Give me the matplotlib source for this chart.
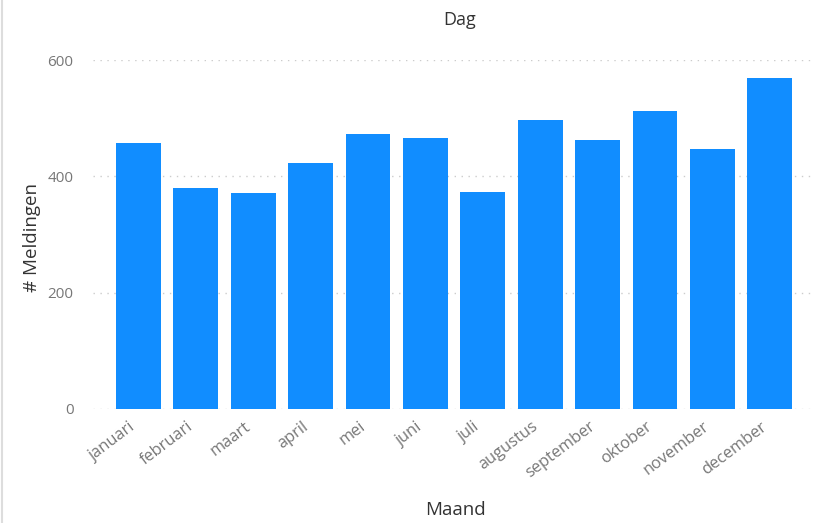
import matplotlib.pyplot as plt
from matplotlib.lines import Line2D

maanden = ['januari', 'februari', 'maart', 'april', 'mei', 'juni', 'juli',
           'augustus', 'september', 'oktober', 'november', 'december']
meldingen = [457, 380, 371, 423, 473, 466, 373, 497, 462, 512, 447, 569]
yticks = [0, 200, 400, 600]

plt.rcParams['font.family'] = ['Open Sans', 'DejaVu Sans']

fig = plt.figure(figsize=(8.16, 5.23), dpi=100)
ax = fig.add_axes([0.114, 0.218, 0.885, 0.667])

x = list(range(len(maanden)))
ax.bar(x, meldingen, width=0.78, color='#118DFF', zorder=2)

ax.set_xlim(-0.79, len(maanden) - 0.21)
ax.set_ylim(0, 600)
ax.set_yticks(yticks)
# labels sit a little left of the bar centres
ax.set_xticks([i - 0.16 for i in x])
ax.set_xticklabels(maanden, rotation=37, ha='right', rotation_mode='anchor',
                   fontsize=11.8, color='#777777')
ax.tick_params(axis='y', labelsize=11, labelcolor='#777777', length=0, pad=14)
ax.tick_params(axis='x', length=0, pad=7)
ax.grid(axis='y', color='#cccccc', linestyle=(0, (1, 4)), linewidth=1, zorder=0)
for s in ax.spines.values():
    s.set_visible(False)

fig.text(460 / 816, 1 - 20 / 523, 'Dag', ha='center', va='center',
         fontsize=13, color='#333333')
fig.text(455 / 816, 1 - 510 / 523, 'Maand', ha='center', va='center',
         fontsize=13.5, color='#333333')
fig.text(32 / 816, 1 - 237 / 523, '# Meldingen', ha='center', va='center',
         rotation=90, fontsize=13.5, color='#333333')

fig.add_artist(Line2D([2 / 816, 2 / 816], [0, 1], color='#dddddd', linewidth=1.5))

fig.savefig('out.png', dpi=100, facecolor='white')
